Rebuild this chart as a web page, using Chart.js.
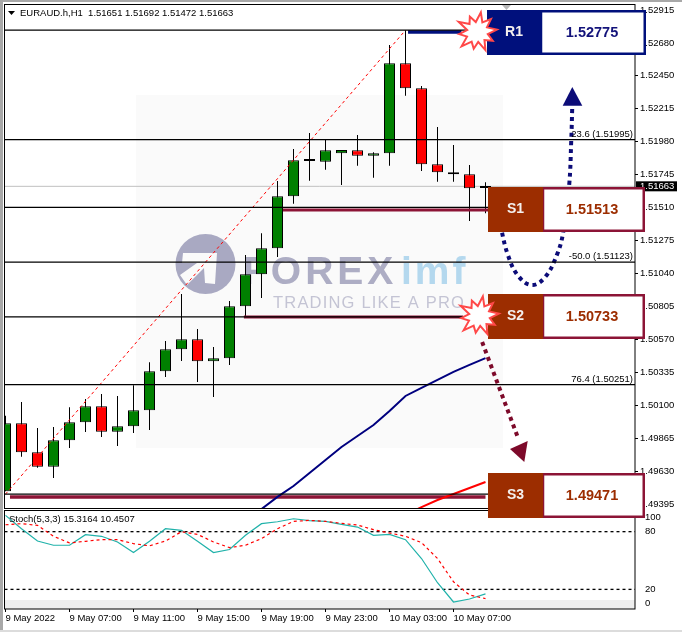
<!DOCTYPE html>
<html>
<head>
<meta charset="utf-8">
<title>EURAUD H1</title>
<script src="https://cdn.jsdelivr.net/npm/chart.js@4/dist/chart.umd.min.js"></script>
<style>
    html, body { margin: 0; padding: 0; background: #ffffff; }
    body { width: 682px; height: 632px; position: relative; overflow: hidden; }
    canvas { position: absolute; left: 0; }
    #price-chart { top: 0; z-index: 2; }
    #stoch-chart { top: 510px; z-index: 1; }
    .edge { position: absolute; }
</style>
</head>
<body>
<div class="edge" style="left:0;top:0;width:682px;height:2px;background:#a8a8a8"></div>
<div class="edge" style="left:0;top:0;width:3px;height:632px;background:#a8a8a8"></div>
<div class="edge" style="left:0;top:630px;width:682px;height:2px;background:#dcdcdc"></div>
<canvas id="price-chart" width="682" height="520"></canvas>
<canvas id="stoch-chart" width="682" height="122"></canvas>
<script>
// =========================================================
// DATA
// =========================================================

    const opens = [1.49491, 1.49975, 1.49769, 1.49666, 1.49854, 1.49983, 1.50096, 1.49916, 1.49954, 1.50068, 1.50346, 1.50502, 1.50574, 1.50417, 1.50438, 1.50809, 1.51036, 1.51222, 1.51592, 1.51845, 1.51838, 1.51898, 1.51920, 1.51881, 1.51898, 1.52539, 1.52361, 1.51820, 1.51763, 1.51749, 1.51651];
    const highs = [1.50030, 1.50127, 1.49942, 1.49949, 1.50089, 1.50148, 1.50184, 1.50170, 1.50246, 1.50410, 1.50562, 1.50896, 1.50647, 1.50519, 1.50846, 1.51174, 1.51328, 1.51701, 1.51929, 1.52043, 1.51998, 1.51922, 1.52028, 1.51905, 1.52669, 1.52775, 1.52377, 1.52085, 1.51957, 1.51815, 1.51692];
    const lows = [1.49491, 1.49738, 1.49659, 1.49586, 1.49800, 1.49913, 1.49878, 1.49814, 1.49906, 1.49928, 1.50305, 1.50419, 1.50270, 1.50163, 1.50391, 1.50730, 1.50868, 1.51160, 1.51539, 1.51703, 1.51781, 1.51672, 1.51810, 1.51724, 1.51810, 1.52308, 1.51772, 1.51696, 1.51696, 1.51416, 1.51472];
    const closes = [1.49975, 1.49769, 1.49666, 1.49854, 1.49983, 1.50096, 1.49916, 1.49954, 1.50068, 1.50346, 1.50502, 1.50574, 1.50417, 1.50438, 1.50809, 1.51036, 1.51222, 1.51592, 1.51848, 1.51843, 1.51920, 1.51922, 1.51881, 1.51898, 1.52539, 1.52361, 1.51820, 1.51763, 1.51749, 1.51649, 1.51663];

    const blueMaBars = [15, 16, 17, 18, 19, 20, 21, 22, 23, 24, 25, 26, 27, 28, 29, 30];
    const blueMa = [1.49287, 1.49365, 1.49451, 1.49529, 1.49622, 1.49714, 1.49807, 1.49885, 1.49963, 1.50063, 1.50170, 1.50227, 1.50284, 1.50341, 1.50391, 1.50440];
    const redMaBars = [25, 26, 27, 28, 29, 30];
    const redMa = [1.49322, 1.49379, 1.49429, 1.49472, 1.49515, 1.49557];

    const fibLevels = [1.52775, 1.51995, 1.51513, 1.51123, 1.50733, 1.50251, 1.49471];
    const fibDiagonalBars = [0, 25];
    const fibDiagonal = [1.49471, 1.52775];
    const currentPrice = 1.51663;

    const resistanceBars = [25.16, 28.5];
    const resistanceLine = [1.52762, 1.52762];
    const support1Bars = [17.34, 30.5];
    const support1Line = [1.51494, 1.51494];
    const support2Bars = [14.9, 28.6];
    const support2Line = [1.50733, 1.50733];
    const support3Bars = [0.28, 30.0];
    const support3Line = [1.49451, 1.49451];

    const upPathBars = [30.92, 31.40, 32.05, 32.90, 33.73, 34.46, 34.86, 35.23, 35.36, 35.42];
    const upPath = [1.51388, 1.51174, 1.51024, 1.50960, 1.51017, 1.51174, 1.51338, 1.51672, 1.51993, 1.52221];
    const downPathBars = [29.79, 31.99];
    const downPath = [1.50554, 1.49885];

    const priceTicks = [1.52915, 1.52680, 1.52450, 1.52215, 1.51980, 1.51745, 1.51510, 1.51275, 1.51040, 1.50805, 1.50570, 1.50335, 1.50100, 1.49865, 1.49630, 1.49395];

    const stochK = [96.9, 83.1, 70.3, 65.9, 65.9, 76.9, 75.2, 69.3, 58.3, 70.0, 83.1, 81.4, 70.0, 58.3, 61.4, 76.2, 88.3, 90.3, 93.4, 91.4, 90.7, 87.6, 84.8, 76.2, 77.2, 71.7, 52.1, 26.9, 6.9, 10.0, 15.32];
    const stochD = [87.2, 88.3, 86.6, 75.2, 68.3, 70.0, 71.7, 71.7, 67.6, 65.2, 70.3, 80.0, 77.2, 69.3, 63.4, 65.9, 72.8, 83.1, 90.7, 91.7, 90.7, 88.6, 86.9, 82.1, 78.6, 75.2, 68.6, 52.1, 27.9, 14.1, 10.45];
    const stochLevels = [80, 20];
    const stochTickValues = [95, 80, 20, 5.5];
    const stochTickLabels = ["100", "80", "20", "0"];

    const timeTickBars = [0, 4, 8, 12, 16, 20, 24, 28];
    const timeLabels = ["9 May 2022", "9 May 07:00", "9 May 11:00", "9 May 15:00", "9 May 19:00", "9 May 23:00", "10 May 03:00", "10 May 07:00"];

// =========================================================
// HELPERS
// =========================================================

    const AXIS_FONT = { family: "'Liberation Sans', Arial, sans-serif", size: 9.5 };
    const PANEL_LEFT = 4.5;
    const AXIS_WIDTH = 47;
    const BAR_MIN = -0.0625;
    const BAR_MAX = 39.34375;

    function zipPoints(xs, ys) {
        return xs.map((x, index) => ({ x: x, y: ys[index] }));
    }

    function lineDataset(xs, ys, color, width, extra) {
        return Object.assign({
            type: "line",
            data: zipPoints(xs, ys),
            borderColor: color,
            borderWidth: width,
            pointRadius: 0,
            tension: 0,
            order: 1
        }, extra || {});
    }

    function fullWidthLine(level, color, width, extra) {
        return lineDataset([BAR_MIN, BAR_MAX], [level, level], color, width, extra);
    }

    function fitVerticalAxis(scale) {
        scale.width = AXIS_WIDTH;
        scale.paddingTop = 0;
        scale.paddingBottom = 0;
    }

    function polygon(ctx, points, fill) {
        ctx.beginPath();
        points.forEach((point, index) => {
            if (index === 0) ctx.moveTo(point[0], point[1]);
            else ctx.lineTo(point[0], point[1]);
        });
        ctx.closePath();
        ctx.fillStyle = fill;
        ctx.fill();
    }

    function text(ctx, value, x, y, font, color, align) {
        ctx.font = font;
        ctx.fillStyle = color;
        ctx.textAlign = align || "left";
        ctx.textBaseline = "middle";
        ctx.fillText(value, x, y);
    }

    function drawFrame(ctx, area) {
        ctx.strokeStyle = "#000000";
        ctx.lineWidth = 1;
        ctx.strokeRect(area.left, area.top, area.right - area.left, area.bottom - area.top);
    }

// =========================================================
// MAIN PANEL DECORATION
// =========================================================

    function drawWatermark(ctx) {
        ctx.save();
        ctx.fillStyle = "#fafafa";
        ctx.fillRect(136, 95, 367, 353);

        ctx.beginPath();
        ctx.arc(205.5, 264, 30, 0, Math.PI * 2);
        ctx.fillStyle = "#a9a9c2";
        ctx.fill();
        polygon(ctx, [[183, 253], [217, 253], [215, 284], [205, 283], [204, 268], [187, 285], [180, 275], [197, 263], [182, 263]], "#fafafa");

        ctx.textBaseline = "alphabetic";
        ctx.textAlign = "left";
        ctx.letterSpacing = "4px";
        ctx.font = "bold 39px 'Liberation Sans', Arial, sans-serif";
        ctx.fillStyle = "#adadc4";
        ctx.fillText("FOREX", 243, 284);
        ctx.letterSpacing = "3px";
        ctx.fillStyle = "#b4d8ee";
        ctx.fillText("imf", 401, 284);
        ctx.letterSpacing = "1.2px";
        ctx.font = "16.5px 'Liberation Sans', Arial, sans-serif";
        ctx.fillStyle = "#c4c4d4";
        ctx.fillText("TRADING LIKE A PRO", 273, 308);
        ctx.restore();
    }

    function drawStarburst(ctx, cx, cy) {
        const radii = [20, 11, 18, 11, 20, 10, 17, 11, 21, 11, 18, 10, 21, 11, 17, 10, 20, 11, 19, 11];
        ctx.save();
        ctx.beginPath();
        radii.forEach((radius, index) => {
            const angle = (index / radii.length) * Math.PI * 2 - 0.12;
            const x = cx + Math.cos(angle) * radius;
            const y = cy + Math.sin(angle) * radius;
            if (index === 0) ctx.moveTo(x, y);
            else ctx.lineTo(x, y);
        });
        ctx.closePath();
        ctx.fillStyle = "#ffffff";
        ctx.fill();
        ctx.strokeStyle = "#ff4848";
        ctx.lineWidth = 2;
        ctx.stroke();
        ctx.restore();
    }

    function drawLevelBox(ctx, box) {
        ctx.fillStyle = "#ffffff";
        ctx.fillRect(box.left, box.top, box.right - box.left, box.bottom - box.top);
        ctx.strokeStyle = box.border;
        ctx.lineWidth = 2.5;
        ctx.strokeRect(box.split, box.top + 1.25, box.right - box.split - 1.25, box.bottom - box.top - 2.5);
        ctx.fillStyle = box.fill;
        ctx.fillRect(box.left, box.top, box.split - box.left, box.bottom - box.top);
        const middle = (box.top + box.bottom) / 2;
        text(ctx, box.name, (box.left + box.split) / 2, middle, "bold 14px 'Liberation Sans', Arial, sans-serif", "#f4f0ee", "center");
        text(ctx, box.value, 592, middle, "bold 14.5px 'Liberation Sans', Arial, sans-serif", box.valueColor, "center");
    }

    const priceOverlay = {
        id: "priceOverlay",
        beforeDatasetsDraw(chart) {
            drawWatermark(chart.ctx);
        },
        afterDraw(chart) {
            const ctx = chart.ctx;
            const small = "9.5px 'Liberation Sans', Arial, sans-serif";
            ctx.save();
            drawFrame(ctx, chart.chartArea);

            polygon(ctx, [[8, 11], [15, 11], [11.5, 15]], "#000000");
            text(ctx, "EURAUD.h,H1  1.51651 1.51692 1.51472 1.51663", 20, 13, small, "#000000");

            polygon(ctx, [[502, 5], [511, 5], [506.5, 10]], "#b8b8b8");

            text(ctx, "23.6 (1.51995)", 633, 134.5, small, "#000000", "right");
            text(ctx, "-50.0 (1.51123)", 633, 256.5, small, "#000000", "right");
            text(ctx, "76.4 (1.50251)", 633, 379.5, small, "#000000", "right");

            const tagY = chart.scales.y.getPixelForValue(currentPrice);
            ctx.fillStyle = "#000000";
            ctx.fillRect(636, tagY - 5, 41, 10);
            text(ctx, "1.51663", 640, tagY, small, "#ffffff");

            // arrow heads
            polygon(ctx, [[572.3, 87], [562.7, 105.7], [582.3, 105.7]], "#0c0c78");
            polygon(ctx, [[527.7, 441], [510, 449], [524.3, 462]], "#7d0a2a");

            const brown = "#9c2d00";
            const maroon = "#8c1436";
            drawLevelBox(ctx, { left: 487, right: 646, top: 10, bottom: 55, split: 541, fill: "#00107c", border: "#00107c", name: "R1", value: "1.52775", valueColor: "#12127a" });
            drawLevelBox(ctx, { left: 488, right: 645, top: 187, bottom: 232, split: 543, fill: brown, border: maroon, name: "S1", value: "1.51513", valueColor: brown });
            drawLevelBox(ctx, { left: 488, right: 645, top: 294, bottom: 339, split: 543, fill: brown, border: maroon, name: "S2", value: "1.50733", valueColor: brown });
            drawLevelBox(ctx, { left: 488, right: 645, top: 473, bottom: 518, split: 543, fill: brown, border: maroon, name: "S3", value: "1.49471", valueColor: brown });

            drawStarburst(ctx, 477, 32);
            drawStarburst(ctx, 479, 316);
            ctx.restore();
        }
    };

    const stochOverlay = {
        id: "stochOverlay",
        beforeDatasetsDraw(chart) {
            const area = chart.chartArea;
            chart.ctx.fillStyle = "#eeeeee";
            chart.ctx.fillRect(area.left, 90, area.right - area.left, area.bottom - 90);
        },
        afterDraw(chart) {
            const ctx = chart.ctx;
            ctx.save();
            drawFrame(ctx, chart.chartArea);
            text(ctx, "Stoch(5,3,3) 15.3164 10.4507", 9, 9.5, "9.5px 'Liberation Sans', Arial, sans-serif", "#000000");
            ctx.restore();
        }
    };

// =========================================================
// CHARTS
// =========================================================

    const barIndexes = opens.map((_, index) => index);

    const wickBars = barIndexes.map(index => ({ x: index, y: [lows[index], highs[index]] }));
    const bodyBars = barIndexes.map(index => ({ x: index, y: [opens[index], closes[index]] }));
    const bodyColors = barIndexes.map(index => closes[index] >= opens[index] ? "#008000" : "#ff0000");

    const priceChart = new Chart(document.getElementById("price-chart"), {
        type: "bar",
        data: {
            datasets: [
                {
                    data: wickBars,
                    backgroundColor: "#000000",
                    barThickness: 1,
                    grouped: false,
                    inflateAmount: 0,
                    order: 3
                },
                {
                    data: bodyBars,
                    backgroundColor: bodyColors,
                    borderColor: "#000000",
                    borderWidth: 1,
                    borderSkipped: false,
                    barThickness: 11,
                    grouped: false,
                    inflateAmount: 0,
                    minBarLength: 2,
                    order: 2
                },
                fullWidthLine(currentPrice, "#c0c0c0", 1, { order: 4 }),
                ...fibLevels.map(level => fullWidthLine(level, "#000000", 1.3)),
                lineDataset(fibDiagonalBars, fibDiagonal, "#ff0000", 1, { borderDash: [3, 3] }),
                lineDataset(blueMaBars, blueMa, "#00007f", 2),
                lineDataset(redMaBars, redMa, "#ff0000", 2),
                lineDataset(resistanceBars, resistanceLine, "#00107c", 3.5),
                lineDataset(support1Bars, support1Line, "#8c1436", 3),
                lineDataset(support2Bars, support2Line, "#8c1436", 3),
                lineDataset(support3Bars, support3Line, "#8c1436", 3.5),
                lineDataset(upPathBars, upPath, "#0c0c78", 4, { borderDash: [4, 4], tension: 0.4 }),
                lineDataset(downPathBars, downPath, "#7d0a2a", 4, { borderDash: [4, 4] })
            ]
        },
        options: {
            responsive: false,
            animation: false,
            events: [],
            layout: { padding: { left: PANEL_LEFT, top: 4.5, right: 0, bottom: 11.5 } },
            plugins: { legend: { display: false }, tooltip: { enabled: false } },
            scales: {
                x: {
                    type: "linear",
                    offset: false,
                    min: BAR_MIN,
                    max: BAR_MAX,
                    display: false
                },
                y: {
                    position: "right",
                    min: 1.493686,
                    max: 1.529578,
                    afterFit: fitVerticalAxis,
                    afterBuildTicks(scale) { scale.ticks = priceTicks.map(value => ({ value: value })); },
                    border: { display: false },
                    grid: { drawOnChartArea: false, tickLength: 3, color: "#000000" },
                    ticks: {
                        color: "#000000",
                        font: AXIS_FONT,
                        padding: 2,
                        autoSkip: false,
                        callback: value => value.toFixed(5)
                    }
                }
            }
        },
        plugins: [priceOverlay]
    });

    const stochChart = new Chart(document.getElementById("stoch-chart"), {
        type: "line",
        data: {
            datasets: [
                ...stochLevels.map(level => fullWidthLine(level, "#000000", 1.3, { borderDash: [3, 3], order: 3 })),
                lineDataset(barIndexes, stochK, "#20b2aa", 1.2, { order: 2 }),
                lineDataset(barIndexes, stochD, "#ff0000", 1.2, { borderDash: [3, 3] })
            ]
        },
        options: {
            responsive: false,
            animation: false,
            events: [],
            layout: { padding: { left: PANEL_LEFT, top: 0.5, right: 0, bottom: 0 } },
            plugins: { legend: { display: false }, tooltip: { enabled: false } },
            scales: {
                x: {
                    type: "linear",
                    offset: false,
                    min: BAR_MIN,
                    max: BAR_MAX,
                    afterFit(scale) { scale.height = 23; scale.paddingLeft = 0; scale.paddingRight = 0; },
                    afterBuildTicks(scale) { scale.ticks = timeTickBars.map(value => ({ value: value })); },
                    border: { display: false },
                    grid: { drawOnChartArea: false, tickLength: 3, color: "#000000" },
                    ticks: {
                        color: "#000000",
                        font: AXIS_FONT,
                        align: "start",
                        padding: 1,
                        autoSkip: false,
                        maxRotation: 0,
                        callback: value => timeLabels[timeTickBars.indexOf(value)]
                    }
                },
                y: {
                    position: "right",
                    min: -0.4,
                    max: 102,
                    afterFit: fitVerticalAxis,
                    afterBuildTicks(scale) { scale.ticks = stochTickValues.map(value => ({ value: value })); },
                    border: { display: false },
                    grid: { display: false },
                    ticks: {
                        color: "#000000",
                        font: AXIS_FONT,
                        padding: 2,
                        autoSkip: false,
                        callback: value => stochTickLabels[stochTickValues.indexOf(value)]
                    }
                }
            }
        },
        plugins: [stochOverlay]
    });
</script>
</body>
</html>
